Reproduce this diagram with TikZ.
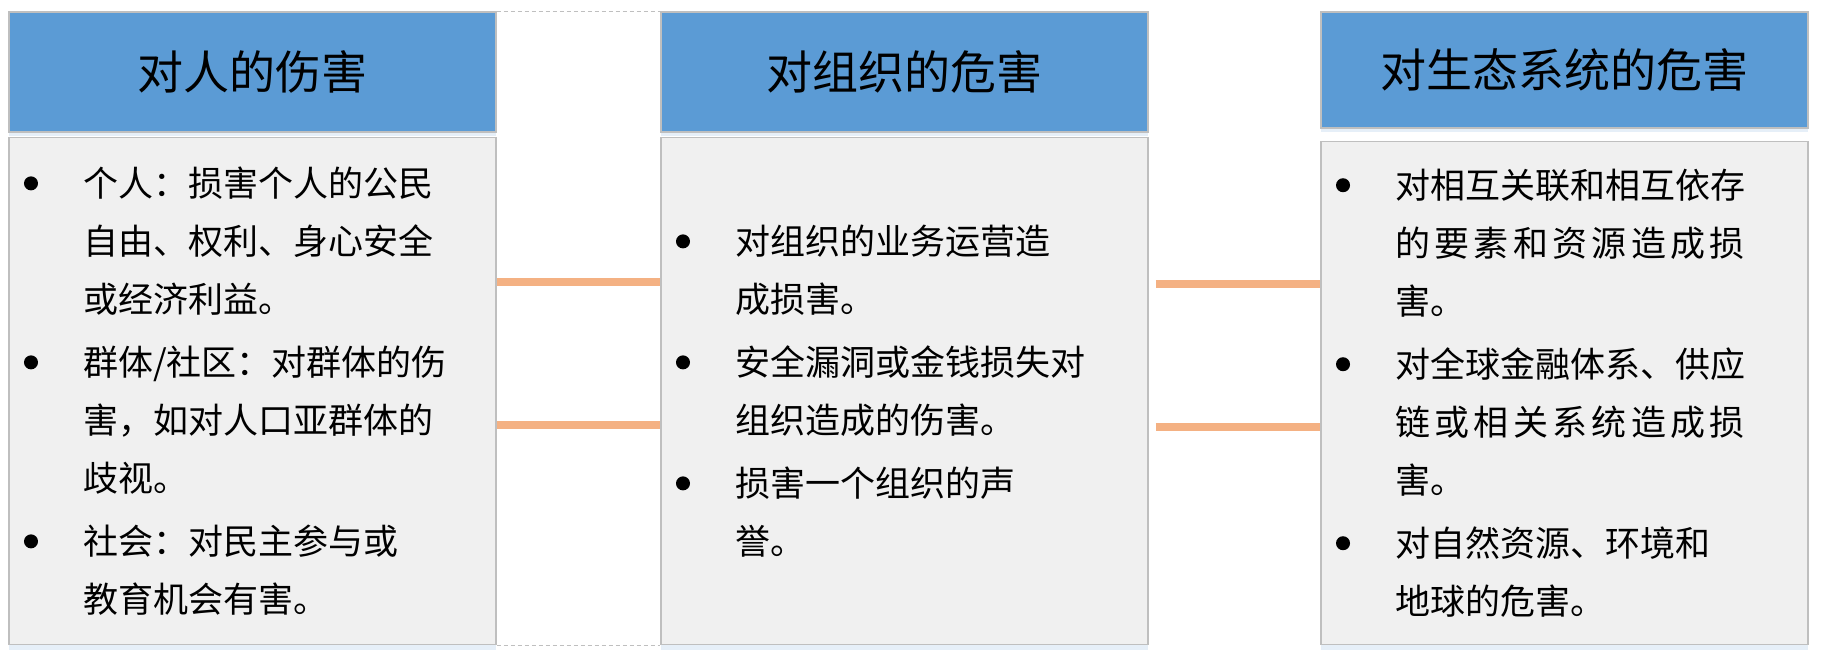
\documentclass[tikz,border=0pt]{standalone}
\usepackage{fontspec}
\newfontfamily\cjk{Noto Sans CJK SC}
\usetikzlibrary{positioning,shadows}
\definecolor{headblue}{HTML}{5B9BD5}
\definecolor{bodygray}{HTML}{F0F0F0}
\definecolor{edgegray}{HTML}{BFBFBF}
\definecolor{linkorange}{HTML}{F4B183}
\newcommand{\bul}{\tikz[baseline=-13pt]\fill (0pt,0pt) circle (7pt);}
\newcommand{\itm}{\makebox[64pt][l]{\hspace{5pt}\bul}}
\newcommand{\ind}{\hspace*{64pt}}
\newcommand{\jline}[1]{\makebox[350pt][s]{#1}}
\tikzset{
  head/.style={draw=edgegray, line width=1.5pt, fill=headblue, minimum width=487pt, minimum height=#1,
    font=\cjk\fontsize{46}{50}\selectfont, drop shadow={shadow xshift=0pt, shadow yshift=-4pt, fill=headblue!30, opacity=.5}},
  body/.style={draw=edgegray, line width=1.5pt, fill=bodygray, minimum width=487pt, minimum height=#1,
    text width=467pt, inner xsep=10pt, align=left, font=\cjk\fontsize{35}{58}\selectfont,
    drop shadow={shadow xshift=0pt, shadow yshift=-5pt, fill=headblue!30, opacity=.5}},
  link/.style={linkorange, line width=8pt},
  frame/.style={edgegray, line width=1.5pt, dash pattern=on 4pt off 3pt}
}
\begin{document}
\begin{tikzpicture}[x=1pt,y=-1pt]
\useasboundingbox[fill=white](0,0) rectangle (1830,662);
\node[head=120pt] (hum) at (252.5,72) {对人的伤害};
\node[body=507pt, below=4pt of hum] (humtxt) {%
\itm 个人：损害个人的公民\\
\ind 自由、权利、身心安全\\
\ind 或经济利益。\\[5pt]
\itm 群体/社区：对群体的伤\\
\ind 害，如对人口亚群体的\\
\ind 歧视。\\[5pt]
\itm 社会：对民主参与或\\
\ind 教育机会有害。};

\node[head=120pt] (org) at (904.5,72) {对组织的危害};
\node[body=507pt, below=4pt of org] (orgtxt) {%
\itm 对组织的业务运营造\\
\ind 成损害。\\[5pt]
\itm 安全漏洞或金钱损失对\\
\ind 组织造成的伤害。\\[5pt]
\itm 损害一个组织的声\\
\ind 誉。};

\node[head=116pt] (eco) at (1564.5,70) {对生态系统的危害};
\node[body=503pt, below=12pt of eco] (ecotxt) {%
\itm 对相互关联和相互依存\\
\ind \jline{的\hfil 要\hfil 素\hfil 和\hfil 资\hfil 源\hfil 造\hfil 成\hfil 损}\\
\ind 害。\\[5pt]
\itm 对全球金融体系、供应\\
\ind \jline{链\hfil 或\hfil 相\hfil 关\hfil 系\hfil 统\hfil 造\hfil 成\hfil 损}\\
\ind 害。\\[5pt]
\itm 对自然资源、环境和\\
\ind 地球的危害。};

\draw[frame] (hum.north east) -- (org.north west);
\draw[frame] (humtxt.south east) -- (orgtxt.south west);
\draw[link] ([yshift=109.5pt]humtxt.east) -- ([yshift=109.5pt]orgtxt.west);
\draw[link] ([yshift=-33.5pt]humtxt.east) -- ([yshift=-33.5pt]orgtxt.west);
\draw[link] ([xshift=7pt,yshift=107.5pt]orgtxt.east) coordinate (a1) -- (a1 -| ecotxt.west);
\draw[link] ([xshift=7pt,yshift=-35.5pt]orgtxt.east) coordinate (a2) -- (a2 -| ecotxt.west);
\end{tikzpicture}
\end{document}
